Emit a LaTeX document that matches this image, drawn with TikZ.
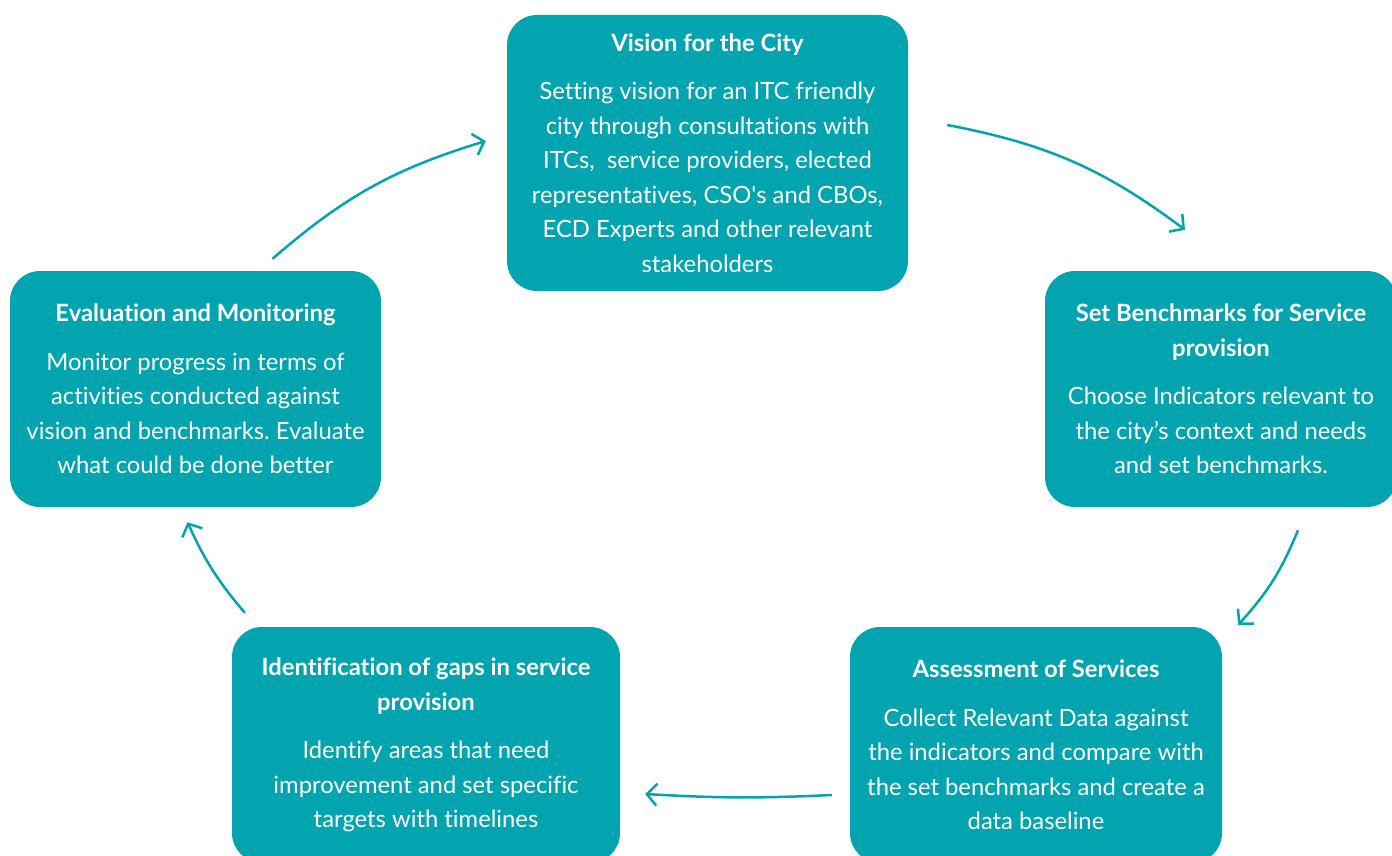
\documentclass[tikz,border=0pt]{standalone}
\usepackage{fontspec}
\setmainfont{Lato}[Ligatures={NoCommon}]
\usepackage{tikz}
\usetikzlibrary{arrows.meta}
\definecolor{cyclecol}{HTML}{02A4AF}
\frenchspacing

\begin{document}
\begin{tikzpicture}[x=1pt,y=-1pt,
  stage/.style={fill=cyclecol, text=white, rounded corners=30pt, inner sep=0pt,
    align=center, font=\fontsize{23.8}{34.5}\selectfont},
  flow/.style={draw=cyclecol, line width=2.5pt, -{Straight Barb[length=10pt,width=22pt]}}]
\clip (0,0) rectangle (1392,856);
%% stages;
\node[stage, minimum width=401pt, minimum height=276pt] (vision) at (707.5,153)
  {\textbf{Vision for the City}\\[14pt]
   Setting vision for an ITC friendly\\ city through consultations with\\
   ITCs,\ \ service providers, elected\\ representatives, CSO\textquotesingle s and CBOs,\\
   ECD Experts and other relevant\\ stakeholders};
\node[stage, minimum width=352pt, minimum height=236pt] (bench) at (1221,389)
  {\textbf{Set Benchmarks for Service}\\ \textbf{provision}\\[14pt]
   Choose Indicators relevant to\\ the city’s context and needs\\ and set benchmarks.};
\node[stage, minimum width=372pt, minimum height=236pt] (assess) at (1036,745)
  {\textbf{Assessment of Services}\\[14pt]
   Collect Relevant Data against\\ the indicators and compare with\\
   the set benchmarks and create a\\ data baseline};
\node[stage, minimum width=388pt, minimum height=236pt] (gaps) at (426,745)
  {\textbf{Identification of gaps in service}\\ \textbf{provision}\\[14pt]
   Identify areas that need\\ improvement and set specific\\ targets with timelines};
\node[stage, minimum width=371pt, minimum height=236pt] (eval) at (195.5,389)
  {\textbf{Evaluation and Monitoring}\\[14pt]
   Monitor progress in terms of\\ activities conducted against\\
   vision and benchmarks. Evaluate\\ what could be done better};
%% arrows;
\draw[flow] ([shift={(39,-28)}]vision.east) to[bend left=13] ([shift={(-36,-41)}]bench.north);
\draw[flow] ([shift={(77,23)}]bench.south) to[bend left=10] ([shift={(16,-2)}]assess.north east);
\draw[flow] ([shift={(-18,50)}]assess.west) to[bend left=3] ([shift={(25,49)}]gaps.east);
\draw[flow] ([shift={(13,-14)}]gaps.north west) to[bend left=8] ([shift={(-8,15)}]eval.south);
\draw[flow] ([shift={(77,-12)}]eval.north) to[bend left=12] ([shift={(-21,-12)}]vision.west);
\end{tikzpicture}
\end{document}
